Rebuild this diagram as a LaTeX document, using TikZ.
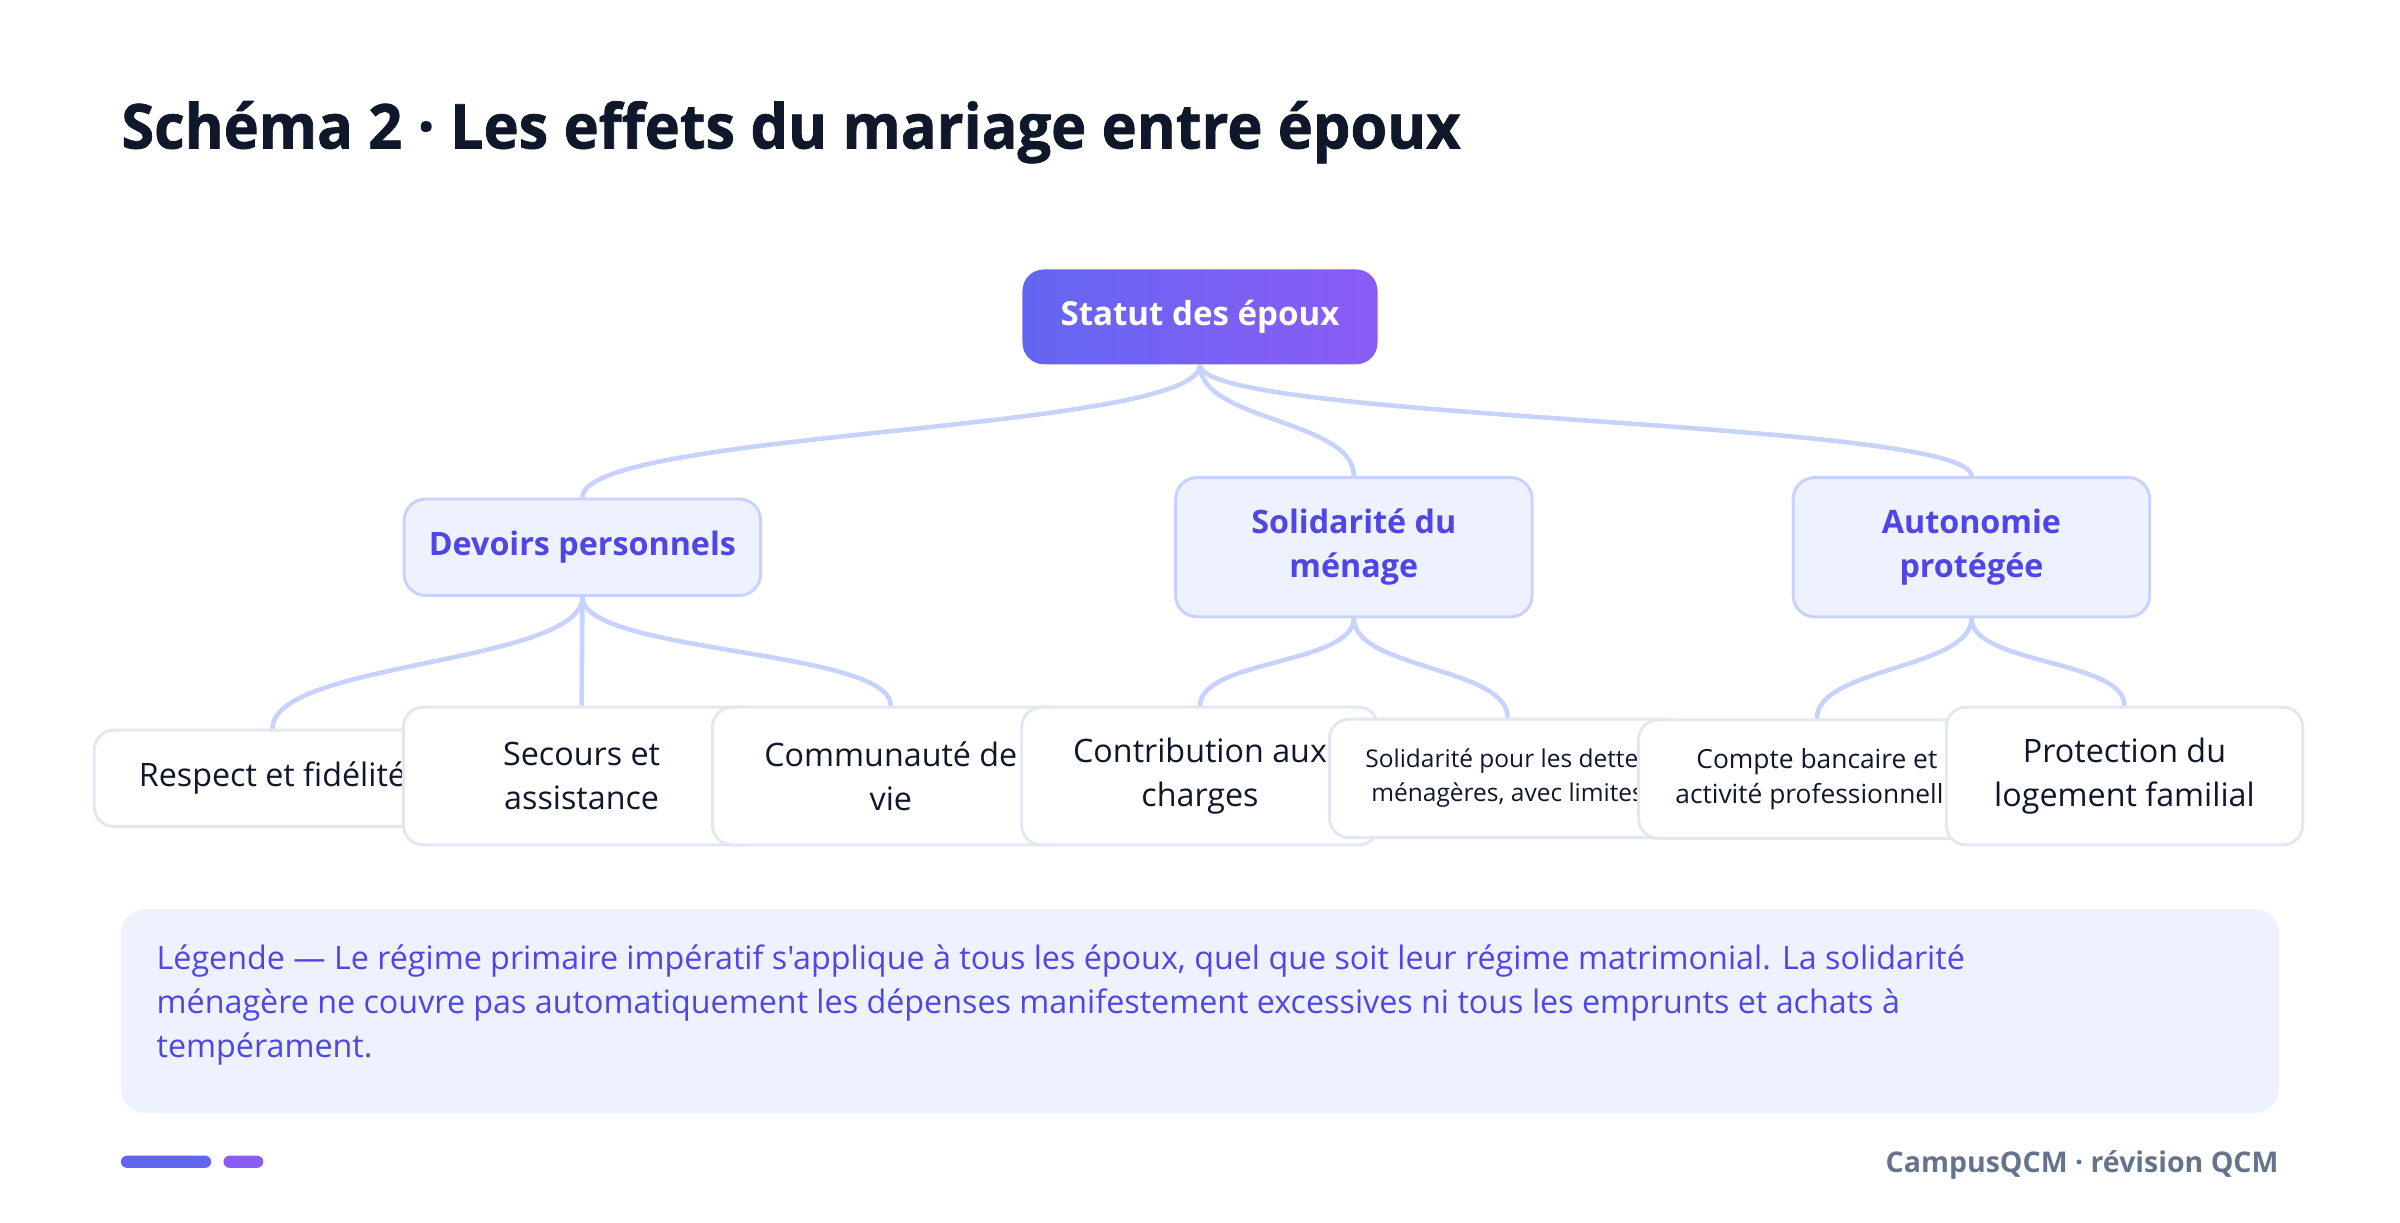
\documentclass[tikz,border=0pt]{standalone}
\usepackage{fontspec}
\setmainfont{Open Sans}[Ligatures=TeXOff]
\newfontfamily\titrefont{Open Sans}[FakeStretch=0.96, FakeBold=1.2, Ligatures=TeXOff]

\definecolor{encre}{HTML}{0F172A}
\definecolor{indigoA}{HTML}{6366F1}
\definecolor{violetA}{HTML}{8B5CF6}
\definecolor{brume}{HTML}{EEF2FF}
\definecolor{lavande}{HTML}{C7D2FE}
\definecolor{indigoT}{HTML}{4F46E5}
\definecolor{grisB}{HTML}{E2E8F0}
\definecolor{ardoise}{HTML}{64748B}

\newcommand{\taille}[2]{\fontsize{#1}{#2}\selectfont}

\begin{document}
\begin{tikzpicture}[x=0.02cm,y=-0.02cm,
  titre/.style={anchor=base west, inner sep=0, text=encre, font=\titrefont\bfseries\taille{23}{28}},
  racine/.style={rounded corners=0.28cm, left color=indigoA, right color=violetA, text=white,
    font=\bfseries\taille{12.3}{16}, minimum width=4.64cm, minimum height=1.24cm, inner sep=0},
  theme/.style={draw=lavande, line width=1.1pt, fill=brume, rounded corners=0.28cm, text=indigoT,
    font=\bfseries\taille{12}{16.4}, align=center, minimum width=4.66cm, minimum height=1.82cm, inner sep=0},
  feuille/.style={draw=grisB, line width=1.1pt, fill=white, rounded corners=0.26cm, text=encre,
    font=\taille{12}{16.4}, align=center, minimum width=4.66cm, minimum height=1.8cm, inner sep=0},
  petit/.style={font=\taille{#1}{12.8}, minimum height=1.55cm},
  lien/.style={draw=lavande, line width=1.7pt},
  legende/.style={anchor=north west, inner sep=0, text=indigoT, align=left, font=\taille{12}{16.4}},
  pied/.style={anchor=base east, inner sep=0, text=ardoise, font=\bfseries\taille{10.6}{14}}]
\useasboundingbox (0,0) rectangle (1568,799);

% Titre
\node[titre] (titre) at (79,97) {Schéma 2 · Les effets du mariage entre époux};

% Noeud racine
\node[racine] (statut) at (784,207) {Statut des époux};

% Themes
\node[theme, minimum height=1.26cm] (devoirs) at (380.5,357.5) {Devoirs personnels};
\node[theme] (solidarite) at (884.5,357.5) {Solidarité du\\ménage};
\node[theme] (autonomie) at (1288,357.5) {Autonomie\\protégée};

% Feuilles, de gauche a droite (chacune recouvre la precedente)
\node[feuille, minimum height=1.26cm] (respect) at (178,508.5) {Respect et fidélité};
\node[feuille] (secours) at (380,507) {Secours et\\assistance};
\node[feuille] (communaute) at (582,507) {Communauté de\\vie};
\node[feuille] (contribution) at (784,507) {Contribution aux\\charges};
\node[feuille, petit=9.1] (dettes) at (985,508.5) {Solidarité pour les dettes\\ménagères, avec limites};
\node[feuille, petit=9.8] (compte) at (1187,509) {Compte bancaire et\\activité professionnelle};
\node[feuille] (protection) at (1388,507) {Protection du\\logement familial};

% Liens
\draw[lien] (statut.south) .. controls +(0,44) and +(0,-44) .. (devoirs.north);
\draw[lien] (statut.south) .. controls +(0,37) and +(0,-37) .. (solidarite.north);
\draw[lien] (statut.south) .. controls +(0,37) and +(0,-37) .. (autonomie.north);
\draw[lien] (devoirs.south) .. controls +(0,44) and +(0,-44) .. (respect.north);
\draw[lien] (devoirs.south) -- (secours.north);
\draw[lien] (devoirs.south) .. controls +(0,37) and +(0,-37) .. (communaute.north);
\draw[lien] (solidarite.south) .. controls +(0,30) and +(0,-30) .. (contribution.north);
\draw[lien] (solidarite.south) .. controls +(0,33) and +(0,-33) .. (dettes.north);
\draw[lien] (autonomie.south) .. controls +(0,33) and +(0,-33) .. (compte.north);
\draw[lien] (autonomie.south) .. controls +(0,30) and +(0,-30) .. (protection.north);

% Legende
\fill[brume, rounded corners=0.32cm] (79,594) rectangle (1489,727);
\node[legende] (legende) at (102,617) {Légende — Le régime primaire impératif s'applique à tous les époux, quel que soit leur régime matrimonial. La solidarité\\
ménagère ne couvre pas automatiquement les dépenses manifestement excessives ni tous les emprunts et achats à\\
tempérament.};

% Pied de page
\fill[indigoA, rounded corners=0.08cm] (79,755) rectangle (138,763);
\fill[violetA, rounded corners=0.08cm] (146,755) rectangle (172,763);
\node[pied] (pied) at (1489,766) {CampusQCM · révision QCM};
\end{tikzpicture}
\end{document}
